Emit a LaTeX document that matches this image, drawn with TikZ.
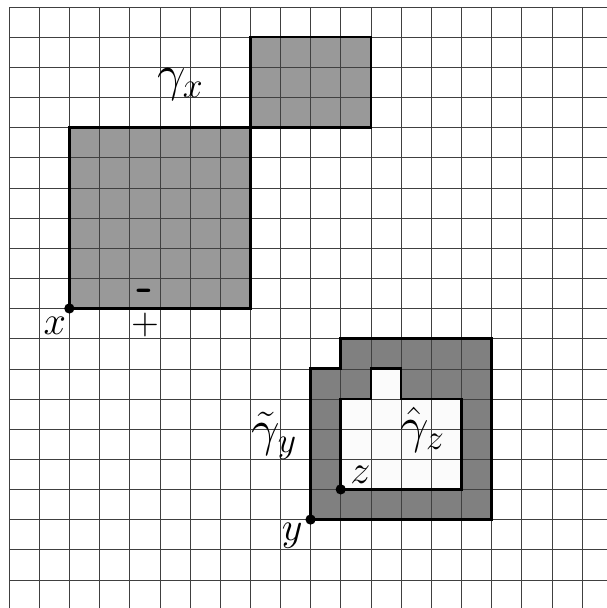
\RequirePackage{fix-cm}
\documentclass[tikz,border=0pt]{standalone}
\usepackage{fontspec}
\usepackage{tikz}
\usetikzlibrary{positioning}
\definecolor{CellGray}{RGB}{153,153,153}
\definecolor{RingGray}{RGB}{128,128,128}
\definecolor{HoleWhite}{RGB}{251,251,251}

\begin{document}
\begin{tikzpicture}[
    gridline/.style={draw=black!75, line width=0.5pt},
    border/.style={draw=black, line width=2.4pt, line join=miter},
    dot/.style={circle, fill=black, inner sep=0pt, minimum size=0.34cm},
    curvelbl/.style={font=\fontsize{48}{56}\selectfont, inner sep=0pt, anchor=base west},
    ptlbl/.style={font=\fontsize{38}{44}\selectfont, inner sep=0pt, anchor=base west},
    sign/.style={font=\fontsize{36}{42}\selectfont\sffamily, inner sep=0pt}
]
\useasboundingbox (-0.3,0.066) rectangle (19.83,20.23);
\clip (-0.3,0.066) rectangle (19.83,20.23);

% shaded regions
\fill[CellGray] (2,10) rectangle (8,16);
\fill[CellGray] (8,16) rectangle (12,19);
\fill[RingGray] (10,3) -- (10,8) -- (11,8) -- (11,9) -- (16,9) -- (16,3) -- cycle;
\fill[HoleWhite] (11,4) -- (11,7) -- (12,7) -- (12,8) -- (13,8) -- (13,7) -- (15,7) -- (15,4) -- cycle;

\draw[gridline] (0,-1) grid (21,20);

% boundaries
\draw[border] (2,10) rectangle (8,16);
\draw[border] (8,16) rectangle (12,19);
\draw[border] (10,3) -- (10,8) -- (11,8) -- (11,9) -- (16,9) -- (16,3) -- cycle;
\draw[border] (11,4) -- (11,7) -- (12,7) -- (12,8) -- (13,8) -- (13,7) -- (15,7) -- (15,4) -- cycle;

\node[dot] (ptx) at (2,10) {};
\node[dot] (pty) at (10,3) {};
\node[dot] (ptz) at (11,4) {};

\node[ptlbl] (labx) at (1.14,9.12) {$x$};
\node[ptlbl] (laby) at (9.04,2.30) {$y$};
\node[ptlbl] (labz) at (11.31,4.20) {$z$};

\node[sign, anchor=base] (minus) at (4.51,10.22) {\fontsize{44}{50}\selectfont\bfseries -};
\node[sign] (plus) at (4.51,9.45) {+};

\node[curvelbl] (gamx) at (4.90,17.24) {$\gamma_x$};
\node[curvelbl] (gamy) at (8.05,5.46) {$\tilde\gamma_y$};
\node[curvelbl] (gamz) at (12.97,5.57) {$\hat\gamma_z$};
\end{tikzpicture}
\end{document}
